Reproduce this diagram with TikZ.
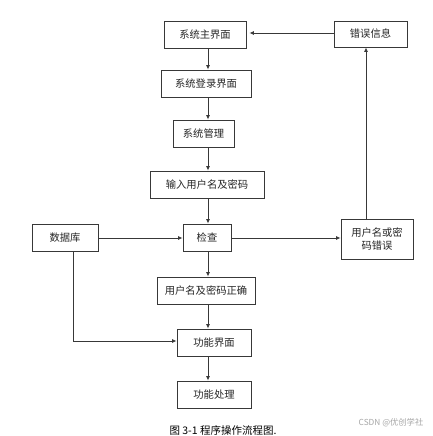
\documentclass[tikz,border=0pt]{standalone}
\usepackage{fontspec}
\setmainfont{Noto Sans CJK SC}
\usetikzlibrary{arrows.meta,calc}
\definecolor{ln}{HTML}{383838}
\begin{document}
\begin{tikzpicture}[x=1pt,y=-1pt,
  box/.style={draw=ln,line width=0.85pt,fill=white,inner sep=0pt,align=center,
    font=\fontsize{10.3}{13}\selectfont,text=black!85},
  conn/.style={draw=ln,line width=0.85pt,-{Latex[length=4.5pt,width=4pt]}},
  plain/.style={draw=ln,line width=0.85pt}]
\useasboundingbox (0,0) rectangle (433,436);
\fill[white] (0,0) rectangle (433,436);
\coordinate (sp) at (208,0);
\node[box,minimum width=82pt,minimum height=27pt] (main) at (205,34.5) {系统主界面};
\node[box,minimum width=73pt,minimum height=26pt] (err) at (370.5,34) {错误信息};
\node[box,minimum width=90pt,minimum height=27pt] (login) at (206,83.5) {系统登录界面};
\node[box,minimum width=61pt,minimum height=27pt] (mgmt) at (203.5,133.5) {系统管理};
\node[box,minimum width=114pt,minimum height=27pt] (input) at (207,184.5) {输入用户名及密码};
\node[box,minimum width=66pt,minimum height=27pt] (db) at (65,237.5) {数据库};
\node[box,minimum width=48pt,minimum height=27pt] (check) at (207,237.5) {检查};
\node[box,minimum width=72pt,minimum height=40pt] (wrong) at (377,239) {用户名或密\\码错误};
\node[box,minimum width=98pt,minimum height=27pt] (right) at (206,290.5) {用户名及密码正确};
\node[box,minimum width=74pt,minimum height=27pt] (func) at (214,342.5) {功能界面};
\node[box,minimum width=74pt,minimum height=27pt] (proc) at (214,394.5) {功能处理};
\coordinate (hl) at (0,238);
\coordinate (wx) at (366,0);
\coordinate (ey) at (0,33);
\coordinate (dbx) at (73,0);
\coordinate (fy) at (0,341);
\coordinate (corner) at (73,341);
% spine
\draw[conn] (main.south -| sp) -- (login.north -| sp);
\draw[conn] (login.south -| sp) -- (mgmt.north -| sp);
\draw[conn] (mgmt.south -| sp) -- (input.north -| sp);
\draw[conn] (input.south -| sp) -- (check.north -| sp);
\draw[conn] (check.south -| sp) -- (right.north -| sp);
\draw[conn] (right.south -| sp) -- (func.north -| sp);
\draw[conn] (func.south -| sp) -- (proc.north -| sp);
% side connectors
\draw[conn] (db.east |- hl) -- (check.west |- hl);
\draw[conn] (check.east |- hl) -- (wrong.west |- hl);
\draw[conn] (wrong.north -| wx) -- (err.south -| wx);
\draw[conn,shorten >=3pt] (err.west |- ey) -- (main.east |- ey);
\draw[conn] (db.south -| dbx) -- (corner) -- (func.west |- fy);
% caption
\node[font=\fontsize{10.5}{12}\selectfont,text=black] (cap) at (223,430) {图 3-1 程序操作流程图.};
\node[font=\fontsize{8.3}{10}\selectfont,text=black!35] (wm) at (391,423) {CSDN @优创学社};
\end{tikzpicture}
\end{document}
